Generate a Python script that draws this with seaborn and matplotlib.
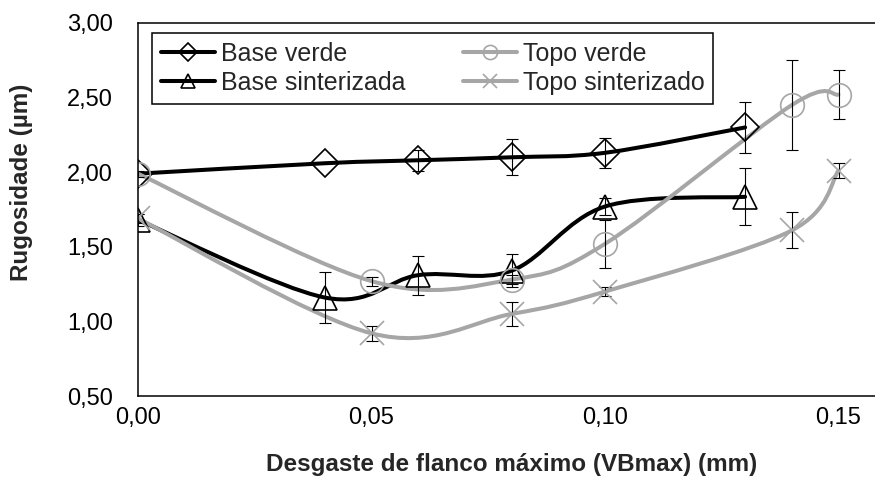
import numpy as np
import pandas as pd
import matplotlib
matplotlib.use("Agg")
import matplotlib.pyplot as plt
import seaborn as sns
from matplotlib.path import Path
from matplotlib.patches import PathPatch
from matplotlib.lines import Line2D
from matplotlib.ticker import FixedLocator, FuncFormatter

# ---------------- data ----------------
x_base = [0.00, 0.04, 0.06, 0.08, 0.10, 0.13]
x_topo = [0.00, 0.05, 0.08, 0.10, 0.14, 0.15]

base_verde = [1.99, 2.06, 2.08, 2.10, 2.13, 2.30]
base_verde_err = [0.0, 0.0, 0.07, 0.12, 0.10, 0.17]

base_sint = [1.68, 1.16, 1.31, 1.34, 1.77, 1.835]
base_sint_err = [0.04, 0.17, 0.13, 0.11, 0.06, 0.19]

topo_verde = [1.99, 1.27, 1.28, 1.52, 2.45, 2.52]
topo_verde_err = [0.02, 0.03, 0.03, 0.16, 0.30, 0.165]

topo_sint = [1.69, 0.92, 1.05, 1.20, 1.61, 2.01]
topo_sint_err = [0.03, 0.05, 0.08, 0.03, 0.12, 0.05]

labels = ["Base verde", "Base sinterizada", "Topo verde", "Topo sinterizado"]
x_ticks = [0.00, 0.05, 0.10, 0.15]
y_ticks = [0.50, 1.00, 1.50, 2.00, 2.50, 3.00]

BLACK = "#000000"
GRAY = "#A6A6A6"

series = [
    (labels[0], x_base, base_verde, base_verde_err, BLACK, "D", 14.5),
    (labels[1], x_base, base_sint, base_sint_err, BLACK, "^", 17.0),
    (labels[2], x_topo, topo_verde, topo_verde_err, GRAY, "o", 17.0),
    (labels[3], x_topo, topo_sint, topo_sint_err, GRAY, "x", 17.0),
]

# ---------------- style ----------------
sns.set_style("white")
plt.rcParams["font.family"] = ["Liberation Sans", "DejaVu Sans"]
plt.rcParams["axes.unicode_minus"] = False

fig = plt.figure(figsize=(8.75, 4.79), dpi=100)
L, R, T, B = 138, 875, 23, 396
ax = fig.add_axes([L / 875, 1 - B / 479, (R - L) / 875, (B - T) / 479])


def smooth_path(xs, ys):
    """Excel-like smoothed line (Bezier segments through the data points)."""
    pts = np.column_stack([xs, ys]).astype(float)
    n = len(pts)
    verts = [pts[0]]
    codes = [Path.MOVETO]
    for i in range(n - 1):
        p0 = pts[i - 1] if i > 0 else pts[i]
        p1 = pts[i]
        p2 = pts[i + 1]
        p3 = pts[i + 2] if i + 2 < n else pts[i + 1]
        c1 = p1 + (p2 - p0) / 6.0
        c2 = p2 - (p3 - p1) / 6.0
        verts += [c1, c2, p2]
        codes += [Path.CURVE4] * 3
    return Path(verts, codes)


handles = []
for name, xs, ys, errs, col, mk, ms in series:
    # smoothed connecting line
    patch = PathPatch(smooth_path(xs, ys), facecolor="none", edgecolor=col,
                      lw=2.9, capstyle="round", joinstyle="round")
    ax.add_patch(patch)
    # error bars
    xe = [x for x, e in zip(xs, errs) if e > 0]
    ye = [y for y, e in zip(ys, errs) if e > 0]
    ee = [e for e in errs if e > 0]
    ax.errorbar(xe, ye, yerr=ee, fmt="none", ecolor="black", elinewidth=0.8,
                capsize=4, capthick=0.8)
    # markers
    df = pd.DataFrame({"x": xs, "y": ys})
    sns.lineplot(data=df, x="x", y="y", ax=ax, marker=mk, linestyle="none",
                 markersize=ms, markerfacecolor="none", markeredgecolor=col,
                 markeredgewidth=1.2, color=col, errorbar=None, legend=False,
                 sort=False)
    handles.append(Line2D([], [], color=col, lw=2.9, marker=mk, markersize=ms,
                          markerfacecolor="none", markeredgecolor=col,
                          markeredgewidth=1.2))

# ---------------- axes ----------------
ax.set_xlim(0, (R - L) / 4670)
ax.set_ylim(0.5, 3.0)
ax.xaxis.set_major_locator(FixedLocator(x_ticks))
ax.yaxis.set_major_locator(FixedLocator(y_ticks))
ax.xaxis.set_major_formatter(FuncFormatter(lambda v, p: f"{v:.2f}".replace(".", ",")))
ax.yaxis.set_major_formatter(FuncFormatter(lambda v, p: f"{v:.2f}".replace(".", ",")))
ax.tick_params(axis="both", length=0, labelsize=17, colors="black")
ax.tick_params(axis="y", pad=18)
ax.tick_params(axis="x", pad=8)
ax.grid(False)
for s in ["left", "bottom", "top"]:
    ax.spines[s].set_visible(True)
    ax.spines[s].set_color("black")
    ax.spines[s].set_linewidth(1.1)
ax.spines["right"].set_visible(False)

ax.set_xlabel("Desgaste de flanco máximo (VBmax) (mm)", fontsize=17.5,
              fontweight="bold", va="center")
ax.set_ylabel("Rugosidade (µm)", fontsize=17.5, fontweight="bold", va="center")
ax.xaxis.set_label_coords((512 - L) / (R - L), (B - 464) / (B - T))
ax.yaxis.set_label_coords((22 - L) / (R - L), (B - 182) / (B - T))

leg = ax.legend(handles, labels, ncol=2, loc="upper left",
                bbox_to_anchor=(152 / 875, 1 - 33 / 479),
                bbox_transform=fig.transFigure, borderaxespad=0,
                fontsize=18, frameon=True, fancybox=False, shadow=False,
                markerscale=0.6, handlelength=2.15, handletextpad=0.25,
                columnspacing=2.3, labelspacing=0.2, borderpad=0.35,
                numpoints=1)
leg.get_frame().set_edgecolor("black")
leg.get_frame().set_linewidth(1.1)
leg.get_frame().set_facecolor("white")
leg.get_frame().set_alpha(1)

fig.savefig("out.png", dpi=100)
